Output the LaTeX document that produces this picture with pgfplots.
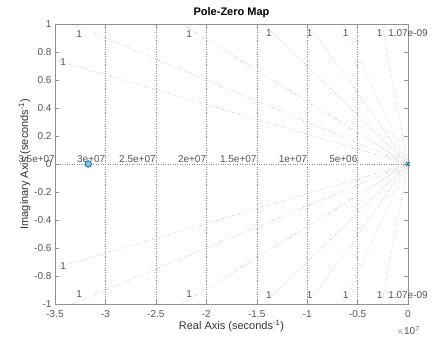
\documentclass[border=0pt]{standalone}
\usepackage{pgfplots}
\pgfplotsset{compat=1.18}
\usepackage{fontspec}
\setmainfont{Liberation Sans}
\definecolor{mblue}{rgb}{0,0.447,0.741}
\definecolor{tickc}{HTML}{555555}
\definecolor{gridc}{HTML}{8A8A8A}
\begin{document}
\begin{tikzpicture}
\begin{axis}[
  width=353pt, height=280pt, scale only axis,
  xmin=-3.5, xmax=0, ymin=-1, ymax=1,
  xtick={-3.5,-3,...,0}, ytick={-1,-0.8,...,1},
  xticklabels={-3.5,-3,-2.5,-2,-1.5,-1,-0.5,0},
  yticklabels={-1,-0.8,-0.6,-0.4,-0.2,0,0.2,0.4,0.6,0.8,1},
  tick align=inside, major tick length=4pt,
  axis line style={draw=gray!85},
  tick style={draw=gray!85},
  ticklabel style={font=\fontsize{10}{12}\selectfont, text=tickc},
  xticklabel style={yshift=-3pt},
  /pgf/number format/assume math mode=true,
  title={\textbf{Pole-Zero Map}},
  title style={font=\fontsize{11}{13}\selectfont, yshift=-3pt},
  xlabel={Real Axis (seconds\textsuperscript{-1})},
  ylabel={Imaginary Axis (seconds\textsuperscript{-1})},
  label style={font=\fontsize{11}{13}\selectfont, text=black!80},
  xlabel style={yshift=4pt},
  ylabel style={yshift=-3pt},
  clip=false,
]
% natural frequency lines (vertical)
\foreach \xv in {-0.5,-1,-1.5,-2,-2.5,-3,-3.5} {
  \edef\tmp{\noexpand\addplot[gridc, dotted, forget plot] coordinates {(\xv,-1) (\xv,1)};}
  \tmp
}
\addplot[gridc, dotted] coordinates {(-3.5,0) (0,0)};
% damping rays
\pgfplotsset{every axis plot/.append style={}}
\addplot[gridc!80!black, dotted] coordinates {(0,0) (-0.26,1)};
\addplot[gridc!80!black, dotted] coordinates {(0,0) (-0.636,1)};
\addplot[gridc!80!black, dotted] coordinates {(0,0) (-0.99,1)};
\addplot[gridc!80!black, dotted] coordinates {(0,0) (-1.43,1)};
\addplot[gridc!80!black, dotted] coordinates {(0,0) (-2.24,1)};
\addplot[gridc!80!black, dotted] coordinates {(0,0) (-3.33,1)};
\addplot[gridc!80!black, dotted] coordinates {(0,0) (-3.5,0.743)};
\addplot[gridc!80!black, dotted] coordinates {(0,0) (-0.26,-1)};
\addplot[gridc!80!black, dotted] coordinates {(0,0) (-0.636,-1)};
\addplot[gridc!80!black, dotted] coordinates {(0,0) (-0.99,-1)};
\addplot[gridc!80!black, dotted] coordinates {(0,0) (-1.43,-1)};
\addplot[gridc!80!black, dotted] coordinates {(0,0) (-2.24,-1)};
\addplot[gridc!80!black, dotted] coordinates {(0,0) (-3.33,-1)};
\addplot[gridc!80!black, dotted] coordinates {(0,0) (-3.5,-0.743)};
% labels
\begin{scope}[every node/.style={font=\fontsize{10}{12}\selectfont, text=tickc, inner sep=0pt}]
\foreach \xl/\yl in {-0.28/0.936,-0.617/0.936,-0.974/0.936,-1.38/0.936,-2.17/0.93,-3.26/0.93,-3.42/0.73,
                     -0.28/-0.936,-0.617/-0.936,-0.974/-0.936,-1.38/-0.936,-2.17/-0.93,-3.26/-0.93,-3.42/-0.73} {
  \edef\tmp{\noexpand\node at (axis cs:\xl,\yl) {1};}
  \tmp
}
\node at (axis cs:0,0.936) {1.07e-09};
\node at (axis cs:0,-0.936) {1.07e-09};
\node[anchor=south east] at (axis cs:-0.5,0.012) {5e+06};
\node[anchor=south east] at (axis cs:-1,0.012) {1e+07};
\node[anchor=south east] at (axis cs:-1.5,0.012) {1.5e+07};
\node[anchor=south east] at (axis cs:-2,0.012) {2e+07};
\node[anchor=south east] at (axis cs:-2.5,0.012) {2.5e+07};
\node[anchor=south east] at (axis cs:-3,0.012) {3e+07};
\node[anchor=south east] at (axis cs:-3.5,0.012) {3.5e+07};
\node[anchor=north] at (rel axis cs:1,0) [yshift=-22pt] {$\times$10\textsuperscript{7}};
\end{scope}
% pole and zero
\addplot[mblue, only marks, mark=*, mark size=3.2pt, thick, mark options={fill=mblue!45}] coordinates {(-3.17,0)};
\addplot[mblue, only marks, mark=x, mark size=2.5pt, thick] coordinates {(0,0)};
\coordinate (sw) at (rel axis cs:0,0);
\coordinate (ne) at (rel axis cs:1,1);
\end{axis}
\pgfresetboundingbox
\path ([shift={(-55pt,-33pt)}]sw) rectangle ([shift={(27pt,24pt)}]ne);
\end{tikzpicture}
\end{document}
